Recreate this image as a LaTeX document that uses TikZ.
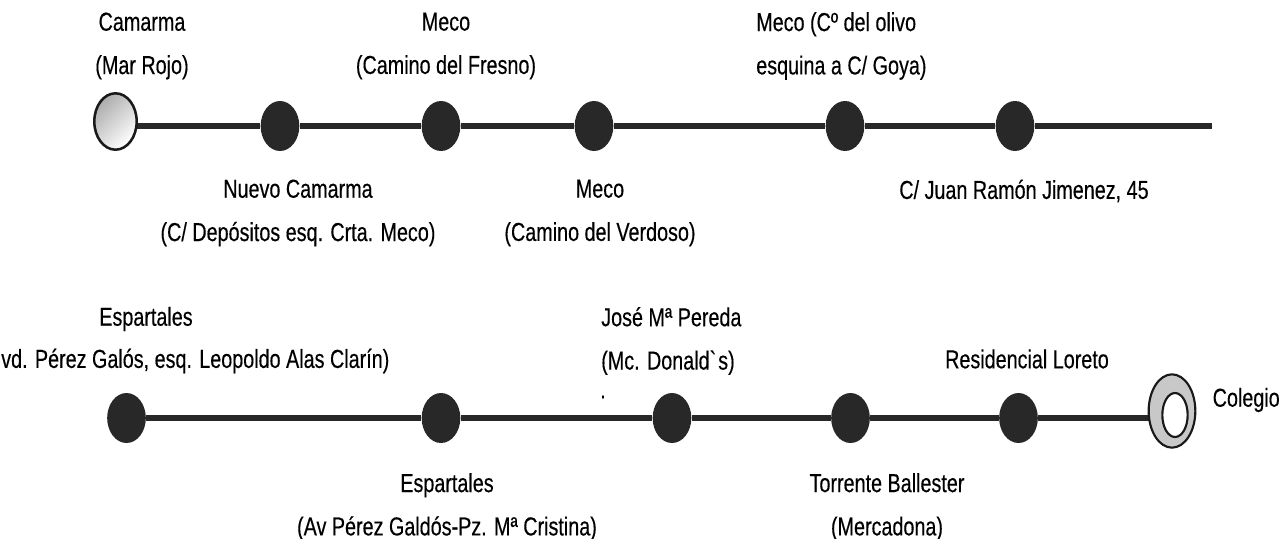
\documentclass[tikz,border=0pt]{standalone}
\usepackage{fontspec}
\setmainfont{Liberation Sans}[FakeStretch=0.76,FakeBold=0.3]
\usetikzlibrary{shapes.geometric,backgrounds}

\definecolor{stopgray}{RGB}{40,40,40}
\definecolor{schoolgray}{RGB}{200,200,200}
\tikzset{
  stopdot/.style={ellipse, fill=stopgray, inner sep=0pt, minimum width=29pt, minimum height=37.5pt},
  track/.style={draw=stopgray, line width=4.9pt},
  lbl/.style={inner sep=0.75pt, font=\fontsize{19.5}{32.5}\selectfont, text=black},
}

\begin{document}
\begin{tikzpicture}[x=0.75pt,y=0.75pt,yscale=-1,xscale=1]
        \useasboundingbox (0,0) rectangle (1283,539);
        %Shape: Ellipse [start]
        \node[ellipse, draw=black!90, line width=1.9pt, top color=gray!65, bottom color=white, shading angle=45, minimum width=31.8pt, minimum height=42.3pt, inner sep=0pt] (camarma) at (115.5,121.5) {};
        %Shape: Ellipse [stops, first route]
        \node[stopdot] (d1) at (280,126) {};
        \node[stopdot] (d2) at (441,126) {};
        \node[stopdot] (d3) at (594,126) {};
        \node[stopdot] (d4) at (845,126) {};
        \node[stopdot] (d5) at (1015,126) {};
        \coordinate (topend) at (1212,126);
        %Shape: Ellipse [stops, second route]
        \node[stopdot] (e1) at (126.5,418) {};
        \node[stopdot] (e2) at (441,418) {};
        \node[stopdot] (e3) at (672,418) {};
        \node[stopdot] (e4) at (850.5,418) {};
        \node[stopdot] (e5) at (1018.5,418) {};
        %Shape: Ellipse [school]
        \node[ellipse, draw=black!90, line width=1.6pt, fill=schoolgray, minimum width=35pt, minimum height=55pt, inner sep=0pt] (colegio) at (1172,411) {};
        \node[ellipse, draw=black!90, line width=1.6pt, fill=white, minimum width=19pt, minimum height=33pt, inner sep=0pt] (colegioin) at (1175,415) {};
        %Straight Lines
        \begin{scope}[on background layer]
          \draw[track] (camarma.center |- d1) -- (d1) -- (d2) -- (d3) -- (d4) -- (d5) -- (topend);
          \draw[track] (e1) -- (e2) -- (e3) -- (e4) -- (e5) -- (e5 -| colegio);
        \end{scope}

        % Text Node
        \node[lbl, align=center] (tCamarma) at (142,46) {Camarma\\(Mar Rojo)};
        % Text Node
        \node[lbl, align=center] (tFresno) at (446,46) {Meco\\(Camino del Fresno)};
        % Text Node
        \node[lbl, align=left, anchor=west] (tOlivo) at (755,46) {Meco (Cº del olivo\\esquina a C/ Goya)};
        % Text Node
        \node[lbl, align=center] (tNuevo) at (298,213) {Nuevo Camarma\\(C/ Depósitos esq. Crta. Meco)};
        % Text Node
        \node[lbl, align=center] (tVerdoso) at (600,213) {Meco\\(Camino del Verdoso)};
        % Text Node
        \node[lbl] (tJuan) at (1024,191) {C/ Juan Ramón Jimenez, 45};
        % Text Node
        \node[lbl] (tEspA) at (146,319) {Espartales};
        \node[lbl, anchor=west] (tEspB) at (0,361) {vd. Pérez Galós, esq. Leopoldo Alas Clarín)};
        % Text Node
        \node[lbl, align=left, anchor=west] (tPereda) at (600,341) {José Mª Pereda\\(Mc. Donald\textasciigrave s)};
        \node[lbl] (tPunto) at (603,397) {.};
        % Text Node
        \node[lbl] (tLoreto) at (1027,359) {Residencial Loreto};
        % Text Node
        \node[lbl, anchor=east] (tColegio) at (1281,400) {Colegio};
        % Text Node
        \node[lbl, align=center] (tEspC) at (447,507) {Espartales\\(Av Pérez Galdós-Pz. Mª Cristina)};
        % Text Node
        \node[lbl, align=center] (tTorrente) at (887,507) {Torrente Ballester\\(Mercadona)};
\end{tikzpicture}
\end{document}
